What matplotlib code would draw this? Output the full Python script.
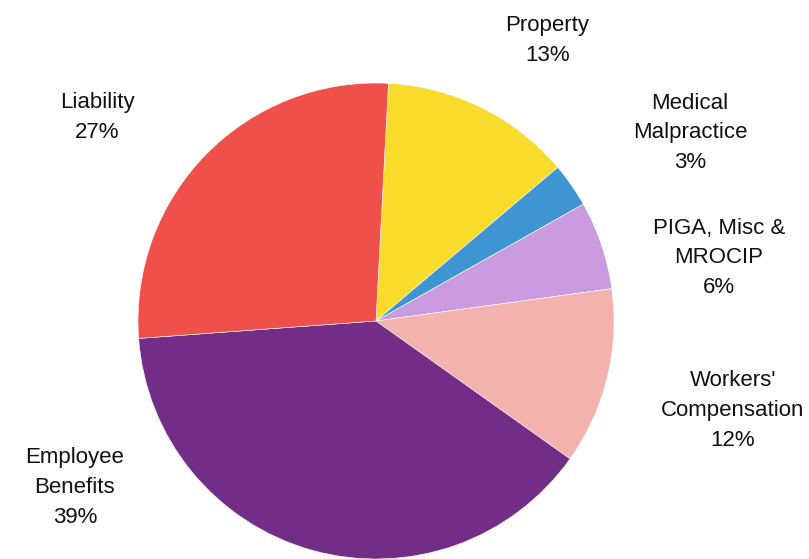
import matplotlib.pyplot as plt

plt.rcParams['font.family'] = ['Liberation Sans', 'DejaVu Sans']

categories = ['Property', 'Medical\nMalpractice', 'PIGA, Misc &\nMROCIP',
              "Workers'\nCompensation", 'Employee\nBenefits', 'Liability']
shares = [13, 3, 6, 12, 39, 27]
colors = ['#F8DB2B', '#3F95D2', '#C99ADD', '#F4B2AE', '#722E87', '#F0504A']

# label centres in axes data units (pie radius = 1)
label_pos = [(0.72, 1.18), (1.32, 0.79), (1.44, 0.265),
             (1.50, -0.375), (-1.265, -0.70), (-1.17, 0.855)]

W, H = 809, 559
cx, cy, r = 376, 321, 238

fig = plt.figure(figsize=(W / 100, H / 100), dpi=100)
ax = fig.add_axes([(cx - r) / W, (H - cy - r) / H, 2 * r / W, 2 * r / H])
ax.pie(shares, colors=colors, startangle=87, counterclock=False, radius=1,
       wedgeprops=dict(edgecolor='white', linewidth=0.4))
ax.set_xlim(-1, 1)
ax.set_ylim(-1, 1)
ax.axis('off')

for name, val, (x, y) in zip(categories, shares, label_pos):
    ax.text(x, y, f'{name}\n{val}%', ha='center', va='center', fontsize=16,
            linespacing=1.55, color='#111111', clip_on=False)

fig.savefig('out.png', dpi=100)
